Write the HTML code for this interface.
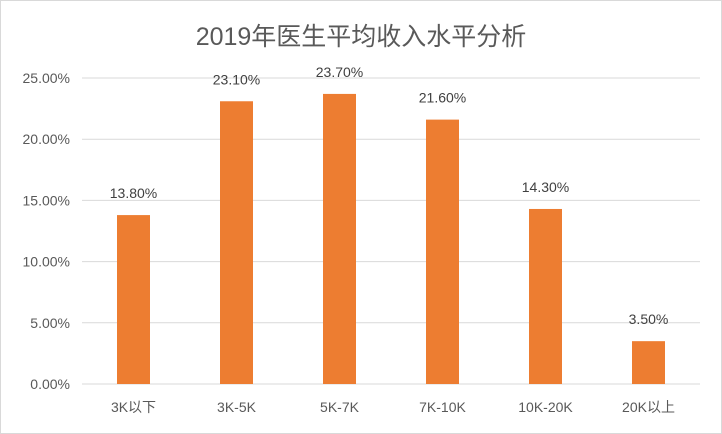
<!DOCTYPE html>
<html><head><meta charset="utf-8"><style>
html,body{margin:0;padding:0;background:#fff;}
svg{display:block;font-family:"Liberation Sans","Noto Sans CJK SC",sans-serif;}
</style></head><body>
<svg id="chart" width="722" height="434" viewBox="0 0 722 434">
<rect x="0.5" y="0.5" width="721" height="433" fill="#fff" stroke="#d9d9d9"/>
<text x="361" y="45" text-anchor="middle" font-size="25" fill="#595959">2019年医生平均收入水平分析</text>
<g id="grid"></g><g id="bars"></g><g id="labels"></g>
</svg>
<script>
const categories = ["3K以下","3K-5K","5K-7K","7K-10K","10K-20K","20K以上"];
const values = [13.8,23.1,23.7,21.6,14.3,3.5];
const ticks = [0,5,10,15,20,25];
const ns="http://www.w3.org/2000/svg";
const X0=82,X1=700,Y0=384,Y1=78,MAX=25;
const band=(X1-X0)/categories.length;
const xc=i=>X0+band*(i+0.5);
const y=v=>Y0-(v/MAX)*(Y0-Y1);
function mk(t,a,p){const e=document.createElementNS(ns,t);for(const k in a)e.setAttribute(k,a[k]);p.appendChild(e);return e;}
const g=document.getElementById('grid'),b=document.getElementById('bars'),l=document.getElementById('labels');
ticks.forEach(t=>{
  const ln=mk('line',{x1:X0,x2:X1,y1:y(t),y2:y(t),stroke:'#d9d9d9','stroke-width':1},g);
  
  
  const tx=mk('text',{x:70,y:y(t)+5,'text-anchor':'end','font-size':14,fill:'#595959'},g);
  tx.textContent=t.toFixed(2)+'%';
  
  
});
values.forEach((v,i)=>{
  const r=mk('rect',{x:xc(i)-16.5,y:y(v),width:33,height:Y0-y(v),fill:'#ed7d31'},b);
  
  
  const t=mk('text',{x:xc(i),y:y(v)-17,'text-anchor':'middle','font-size':14,fill:'#404040'},l);
  t.textContent=v.toFixed(2)+'%';
  
  
  const c=mk('text',{x:xc(i),y:412,'text-anchor':'middle','font-size':14,fill:'#595959'},l);
  c.textContent=categories[i];
  
  
});
</script>
</body></html>
